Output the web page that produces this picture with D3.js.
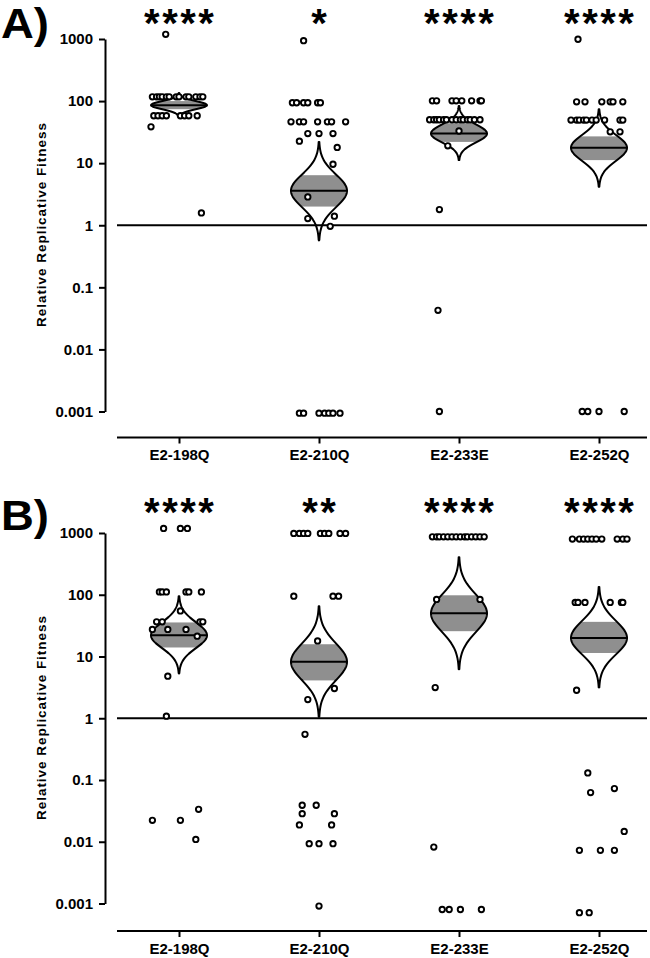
<!DOCTYPE html>
<html>
<head>
<meta charset="utf-8">
<script src="https://cdn.jsdelivr.net/npm/d3@7"></script>
<style>
  html, body { margin: 0; padding: 0; background: #fff; }
  svg { display: block; font-family: "Liberation Sans", Arial, sans-serif; }
</style>
</head>
<body>
<svg id="chart" width="650" height="958"></svg>
<script>
// ---------------- DATA ----------------
const categories = ["E2-198Q", "E2-210Q", "E2-233E", "E2-252Q"];
const yTickValues = [0.001, 0.01, 0.1, 1, 10, 100, 1000];
const yTickLabels = ["0.001", "0.01", "0.1", "1", "10", "100", "1000"];
const panelLabels = ["A)", "B)"];
const yAxisTitle = "Relative Replicative Fitness";

const starsA = ["****", "*", "****", "****"];
const starsB = ["****", "**", "****", "****"];

// violin summaries (median, tips, shaded band)
const medianA = [86, 3.6, 30, 17.7];
const tipLowA = [55, 0.57, 11.2, 4.15];
const tipHighA = [135, 22, 83, 74];
const bandLowA = [74, 2.0, 22, 11.2];
const bandHighA = [100, 6.4, 44, 27];

const medianB = [22, 8.2, 50, 20];
const tipLowB = [5.3, 1.05, 6.2, 3.15];
const tipHighB = [95, 65, 406, 134];
const bandLowB = [14, 4.1, 25.7, 11.4];
const bandHighB = [35.6, 15.8, 98, 36.4];

// individual replicate values per category
const valuesA = [
  [1190, 117,117,117,117,117,117,117,117,117,117,117,117,117, 58,58,58,58,58,58,58,58, 38.5, 1.58],
  [940, 94,94,94,94,94,94, 46.4,46.4,46.4,46.4,46.4,46.4,46.4, 30,30,30, 22.6, 17.9, 9.6, 2.86, 1.28, 1.4, 0.96,
   0.00094,0.00094,0.00094,0.00094,0.00094,0.00094,0.00094],
  [101,101,101,101,101,101,101,101, 50,50,50,50,50,50,50,50,50,50,50,50,50,50, 33, 19, 1.79, 0.0426, 0.001],
  [990, 97.4,97.4,97.4,97.4,97.4,97.4, 49.4,49.4,49.4,49.4,49.4,49.4,49.4,49.4,49.4,49.4, 32, 32,
   0.001,0.001,0.001,0.001]
];
// horizontal jitter of each replicate, as fraction of the category spacing
const jitterA = [
  [-0.095, -0.19,-0.16,-0.14,-0.12,-0.09,-0.07,-0.02,0,0.05,0.07,0.12,0.15,0.17, -0.18,-0.15,-0.12,-0.09,0.01,0.04,0.07,0.13, -0.2, 0.16],
  [-0.11, -0.19,-0.16,-0.11,-0.08,-0.01,0.01, -0.2,-0.14,-0.11,-0.01,0.06,0.09,0.19, -0.08,0,0.1, -0.14, 0.13, 0.1, -0.08, -0.08, 0.11, 0.08,
   -0.14,-0.11,0,0.04,0.07,0.1,0.15],
  [-0.19,-0.16,-0.05,-0.02,0.02,0.09,0.15,0.16, -0.21,-0.18,-0.16,-0.14,-0.11,-0.09,-0.05,-0.02,0.01,0.03,0.06,0.08,0.11,0.15, 0, -0.08, -0.14, -0.15, -0.14],
  [-0.15, -0.16,-0.1,0.02,0.08,0.1,0.17, -0.2,-0.16,-0.14,-0.11,-0.09,-0.05,-0.02,0.04,0.15,0.17, 0.08, 0.15,
   -0.12,-0.08,0,0.18]
];

const valuesB = [
  [1188,1188,1188, 111,111,111,111,111,111, 54.8, 36.4,36.4,36.4,36.4, 27.4,27.4,27.4, 21.3, 4.8, 1.08, 0.0222,0.0222, 0.0335, 0.0109],
  [985,985,985,985,985,985,985,985,985, 95,95,95, 17.9, 3.03, 2.01, 0.55, 0.039,0.039, 0.0285,0.0285, 0.0187,0.0187, 0.0093,0.0093,0.0093, 0.00091],
  [868,868,868,868,868,868,868,868,868,868,868,868,868,868, 84,84, 3.14, 0.0082, 0.0008,0.0008,0.0008,0.0008],
  [797,797,797,797,797,797,797,797,797,797, 75,75,75,75,75,75, 2.84, 0.13, 0.0625, 0.0726, 0.0147, 0.00726,0.00726,0.00726, 0.00071,0.00071]
];
const jitterB = [
  [-0.11,0.01,0.06, -0.14,-0.12,-0.09,0.05,0.07,0.16, 0.01, -0.16,-0.12,0.15,0.17, -0.19,-0.08,0.05, 0.13, -0.08, -0.09, -0.19,0.01, 0.14, 0.12],
  [-0.18,-0.14,-0.11,-0.08,0.01,0.04,0.07,0.15,0.19, -0.18,0.1,0.14, -0.01, 0.11, -0.08, -0.1, -0.12,-0.02, -0.12,0.11, -0.14,0.09, -0.07,0,0.1, 0],
  [-0.19,-0.16,-0.14,-0.11,-0.08,-0.05,-0.02,0.01,0.04,0.06,0.09,0.12,0.15,0.18, -0.16,0.15, -0.17, -0.18, -0.12,-0.07,0.01,0.16],
  [-0.19,-0.14,-0.11,-0.08,-0.05,-0.02,0.02,0.13,0.17,0.2, -0.17,-0.15,-0.1,0.08,0.16,0.17, -0.16, -0.08, -0.06, 0.11, 0.18, -0.14,0.01,0.11, -0.14,-0.07]
];

// ---------------- DRAWING ----------------
const svg = d3.select("#chart");
const FONT = '"Liberation Sans", Arial, sans-serif';
const GRAY = "#8f8f8f";

const x = d3.scalePoint().domain(categories).range([179, 599]);
const step = x.step();

const panels = [
  { label: panelLabels[0], stars: starsA, med: medianA, tlo: tipLowA, thi: tipHighA, blo: bandLowA, bhi: bandHighA,
    values: valuesA, jitter: jitterA, yTop: 39, yBot: 411.5, axisY: 437.5, starY: 37, labelY: 38, titleY: 225 },
  { label: panelLabels[1], stars: starsB, med: medianB, tlo: tipLowB, thi: tipHighB, blo: bandLowB, bhi: bandHighB,
    values: valuesB, jitter: jitterB, yTop: 533, yBot: 903.5, axisY: 931, starY: 526, labelY: 530, titleY: 718 }
];

const halfW = 28;
const xLeft = 117, xRight = 647, yAxisX = 105;

panels.forEach((p, pi) => {
  const g = svg.append("g");
  const y = d3.scaleLog().domain([0.001, 1000]).range([p.yBot, p.yTop]);

  // panel letter
  g.append("text").attr("x", 1).attr("y", p.labelY)
    .attr("font-family", FONT).attr("font-weight", "bold").attr("font-size", 42)
    .attr("textLength", 48).attr("lengthAdjust", "spacingAndGlyphs")
    .text(p.label);

  // y axis
  const yAxis = d3.axisLeft(y).tickValues(yTickValues)
    .tickFormat((d, i) => yTickLabels[i]).tickSize(6).tickSizeOuter(0).tickPadding(6);
  const ya = g.append("g").attr("transform", `translate(${yAxisX},0)`).call(yAxis);
  ya.selectAll("path, line").attr("stroke", "#000").attr("stroke-width", 2);
  ya.selectAll("text").attr("font-family", FONT).attr("font-weight", "bold").attr("font-size", 15).attr("fill", "#000");

  // y axis title
  g.append("text")
    .attr("transform", `translate(46,${p.titleY}) rotate(-90)`)
    .attr("text-anchor", "middle")
    .attr("font-family", FONT).attr("font-weight", "bold").attr("font-size", 13.5)
    .attr("textLength", 204).attr("lengthAdjust", "spacing")
    .text(yAxisTitle);

  // x axis
  const xAxis = d3.axisBottom(x).tickSize(6).tickSizeOuter(0).tickPadding(6);
  const xa = g.append("g").attr("transform", `translate(0,${p.axisY})`).call(xAxis);
  xa.select(".domain").remove();
  xa.append("line").attr("x1", xLeft).attr("x2", xRight).attr("y1", 0).attr("y2", 0)
    .attr("stroke", "#000").attr("stroke-width", 2);
  xa.selectAll(".tick line").attr("stroke", "#000").attr("stroke-width", 2);
  xa.selectAll("text").attr("font-family", FONT).attr("font-weight", "bold").attr("font-size", 15).attr("fill", "#000");

  // reference line at 1
  g.append("line").attr("x1", xLeft).attr("x2", xRight)
    .attr("y1", y(1)).attr("y2", y(1))
    .attr("stroke", "#000").attr("stroke-width", 2);

  // significance stars
  g.selectAll(".stars").data(p.stars).enter().append("text")
    .attr("x", (d, i) => x(categories[i])).attr("y", p.starY)
    .attr("text-anchor", "middle")
    .attr("font-family", FONT).attr("font-weight", "bold").attr("font-size", 40)
    .attr("letter-spacing", 2.5)
    .attr("dx", 1.25)
    .text(d => d);

  // violins
  categories.forEach((c, i) => {
    const cx = x(c);
    const mL = Math.log10(p.med[i]);
    const loL = Math.log10(p.tlo[i]);
    const hiL = Math.log10(p.thi[i]);
    const yTopTip = y(p.thi[i]), yBotTip = y(p.tlo[i]);
    const pts = [];
    for (let py = yTopTip; py <= yBotTip + 0.001; py += 0.5) {
      const lv = Math.log10(y.invert(py));
      const d = lv - mL;
      const s = (d >= 0 ? (hiL - mL) : (mL - loL)) / 3;
      const w = halfW * Math.exp(-0.5 * (d / s) * (d / s));
      pts.push({ py, w });
    }
    pts.push({ py: yBotTip, w: 0 });
    const area = d3.area().y(d => d.py).x0(d => cx - d.w).x1(d => cx + d.w).curve(d3.curveLinear);
    const id = `clip${pi}_${i}`;
    g.append("clipPath").attr("id", id).append("path").attr("d", area(pts));
    g.append("rect")
      .attr("x", cx - halfW - 2).attr("width", 2 * halfW + 4)
      .attr("y", y(p.bhi[i])).attr("height", y(p.blo[i]) - y(p.bhi[i]))
      .attr("fill", GRAY).attr("clip-path", `url(#${id})`);
    g.append("path").attr("d", area(pts))
      .attr("fill", "none").attr("stroke", "#000").attr("stroke-width", 2).attr("stroke-linejoin", "round");
    g.append("line")
      .attr("x1", cx - halfW).attr("x2", cx + halfW)
      .attr("y1", y(p.med[i])).attr("y2", y(p.med[i]))
      .attr("stroke", "#000").attr("stroke-width", 2);
  });

  // replicate points
  categories.forEach((c, i) => {
    const data = p.values[i].map((v, k) => ({ v, j: p.jitter[i][k] }));
    g.selectAll(`.pt${i}`).data(data).enter().append("circle")
      .attr("cx", d => x(c) + d.j * step)
      .attr("cy", d => y(d.v))
      .attr("r", 2.7)
      .attr("fill", "#fff").attr("stroke", "#000").attr("stroke-width", 1.9);
  });
});
</script>
</body>
</html>
